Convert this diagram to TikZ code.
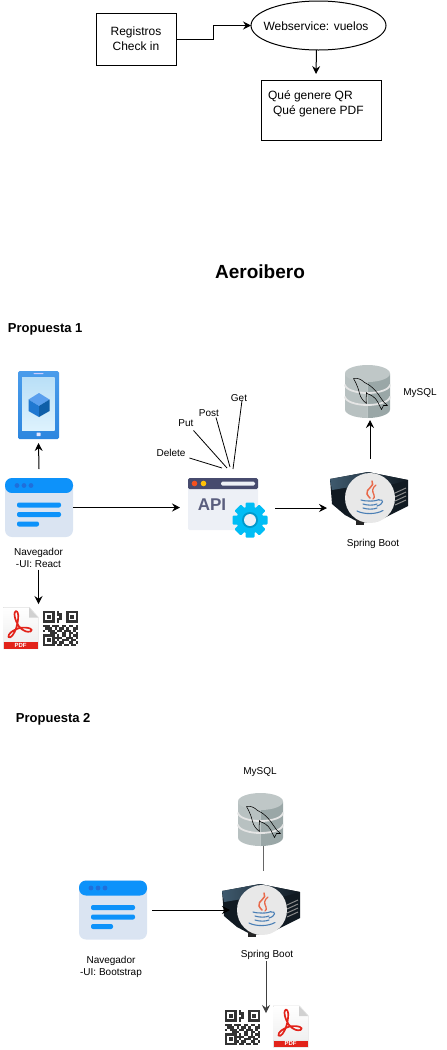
\documentclass[tikz,border=0pt]{standalone}
\usepackage{fontspec}
\setmainfont{Liberation Sans}
\usetikzlibrary{arrows.meta,shapes.geometric}
\definecolor{brhead}{HTML}{0D92FA}
\definecolor{brbody}{HTML}{DAE4F2}
\definecolor{brdot}{HTML}{1F6FDB}
\definecolor{apidark}{HTML}{474B6E}
\definecolor{apitext}{HTML}{5A5E7E}
\definecolor{apibody}{HTML}{EDF0F6}
\definecolor{gearc}{HTML}{00BDF5}
\definecolor{gearr}{HTML}{0099CC}
\definecolor{apired}{HTML}{F4511E}
\definecolor{apiyel}{HTML}{FFC107}
\definecolor{dbl}{HTML}{B8C1C1}
\definecolor{dbr}{HTML}{9AA7A7}
\definecolor{pdfred}{HTML}{E2231A}
\definecolor{qrc}{HTML}{333333}
\definecolor{srvd}{HTML}{111A22}
\definecolor{srvm}{HTML}{3F5A6E}
\definecolor{javab}{HTML}{4A7FB5}
\definecolor{javar}{HTML}{E8694A}
\definecolor{phtop}{HTML}{4A9CEB}
\definecolor{phbot}{HTML}{2C86DF}
\definecolor{sctop}{HTML}{B9DFF7}
\definecolor{scbot}{HTML}{DDF2FD}
\definecolor{cubea}{HTML}{5A9FEE}
\definecolor{cubeb}{HTML}{1F78D1}
\definecolor{cubec}{HTML}{0F5FA8}
\tikzset{
  x=1pt,y=-1pt,
  every node/.style={inner sep=0pt,outer sep=0pt,font=\fontsize{10}{12}\selectfont},
  flowbox/.style={draw=black,line width=1pt,fill=white},
  toptext/.style={font=\fontsize{12}{15}\selectfont,align=center},
  small/.style={align=center},
  head/.style={font=\fontsize{13}{15}\selectfont\bfseries},
  iconbox/.style={minimum width=#1,minimum height=#1},
  arr/.style={line width=1pt,-{Stealth[length=8pt,width=8pt,inset=2.8pt]}},
  plainline/.style={line width=0.8pt,black},
  browserpic/.pic={
    \fill[brbody,rounded corners=7pt] (-34,-29.5) rectangle (34,29.5);
    \fill[brhead,rounded corners=7pt] (-34,-29.5) -- (34,-29.5) -- (34,-14.5) -- (-34,-14.5) -- cycle;
    \fill[brbody] (-34,-14.5) rectangle (34,-10);
    \foreach \px in {-22,-15,-8} \fill[brdot] (\px,-22) circle (2.4pt);
    \fill[brhead,rounded corners=2pt] (-22,-5) rectangle (22,0);
    \fill[brhead,rounded corners=2pt] (-22,4.5) rectangle (22,9.5);
    \fill[brhead,rounded corners=2pt] (-22,14) rectangle (0,19);
  },
  phonepic/.pic={
    \shade[top color=phtop,bottom color=phbot,rounded corners=1.5pt] (-20.5,-34) rectangle (20.5,34);
    \shade[top color=sctop,bottom color=scbot] (-16.5,-28) rectangle (16,25);
    \fill[white!80!blue,rounded corners=.5pt] (-5,-32) rectangle (5,-30.8);
    \fill[white!90!blue,rounded corners=.5pt] (-2,27.5) rectangle (2,31);
    \fill[cubea] (0.5,-12) -- (11,-5.5) -- (0.5,1) -- (-10,-5.5) -- cycle;
    \fill[cubeb] (-10,-5.5) -- (0.5,1) -- (0.5,12) -- (-10,6) -- cycle;
    \fill[cubec] (11,-5.5) -- (0.5,1) -- (0.5,12) -- (11,6) -- cycle;
  },
  pdfpic/.pic={
    \fill[black!12] (-17.5,-21) -- (9,-21) -- (18,-11) -- (18,21) -- (-17.5,21) -- cycle;
    \shade[top color=white,bottom color=black!6] (-17,-20.5) -- (8.5,-20.5) -- (17.5,-10.5) -- (17.5,14) -- (-17,14) -- cycle;
    \fill[black!18] (8.5,-20.5) -- (17.5,-10.5) -- (8.5,-10.5) -- cycle;
    \fill[pdfred] (-17,14) rectangle (17.5,20.5);
    \node[text=white,font=\fontsize{6}{6}\selectfont\bfseries] at (0,17.3) {PDF};
    \draw[pdfred,line width=1.7pt,line join=round]
      (-3,-16) .. controls (-5,-19) and (-8,-15) .. (-4,-6)
      .. controls (-2,-1) and (3,5) .. (10,3.5)
      .. controls (14,1.5) and (8,-1.5) .. (-1,0)
      .. controls (-7,1.5) and (-13,6) .. (-12,9)
      .. controls (-10,11) and (-6,6) .. (-4,-1)
      .. controls (-2.5,-6) and (-1.5,-13) .. (-3,-16);
  },
  qrpic/.pic={
    \foreach \fx/\fy in {0/0,10/0,0/10}{
      \draw[qrc,line width=2.33pt] ({(\fx+.5)*2.33-17.5},{(\fy+.5)*2.33-17.5}) rectangle ({(\fx+4.5)*2.33-17.5},{(\fy+4.5)*2.33-17.5});
      \fill[qrc] ({(\fx+1.6)*2.33-17.5},{(\fy+1.6)*2.33-17.5}) rectangle ({(\fx+3.4)*2.33-17.5},{(\fy+3.4)*2.33-17.5});
    }
    \foreach \cx/\cy in {6/0,7/1,6/1,7/2,6/3,7/3,6/4,
      0/6,1/6,2/6,4/6,5/6,6/6,8/6,9/6,11/6,12/6,14/6,
      1/7,2/7,3/7,5/7,7/7,8/7,10/7,13/7,14/7,
      0/8,2/8,3/8,4/8,6/8,7/8,9/8,10/8,11/8,13/8,
      3/9,4/9,5/9,8/9,9/9,11/9,12/9,14/9,
      6/10,8/10,9/10,11/10,13/10,14/10,
      5/11,6/11,7/11,10/11,11/11,12/11,14/11,
      6/12,8/12,9/12,10/12,12/12,13/12,
      5/13,7/13,8/13,11/13,12/13,14/13,
      6/14,7/14,9/14,10/14,12/14,13/14}
      \fill[qrc] ({\cx*2.33-17.5},{\cy*2.33-17.5}) rectangle ({(\cx+1)*2.33-17.5},{(\cy+1)*2.33-17.5});
  },
  apipic/.pic={
    \fill[apibody,rounded corners=1.5pt] (-35,-26) rectangle (35,26);
    \fill[apidark,rounded corners=1.5pt] (-35,-26) rectangle (35,-15);
    \fill[apired] (-28.5,-20.5) circle (2.8pt);
    \fill[apiyel] (-19.5,-20.5) circle (2.8pt);
    \fill[apibody,rounded corners=1.5pt] (-2,-22.5) rectangle (32,-18.5);
    \node[text=apitext,font=\fontsize{17}{17}\selectfont\bfseries] at (-11,1) {API};
    \begin{scope}[shift={(27,16)}]
      \foreach \ang in {0,45,...,315}
        \fill[gearc,rotate=\ang,rounded corners=1pt] (-4.5,-17.5) rectangle (4.5,-8);
      \fill[gearc] (0,0) circle (13.5pt);
      \fill[gearr] (0,0) circle (8pt);
      \fill[apibody] (0,0) circle (6pt);
    \end{scope}
  },
  serverpic/.pic={
    \fill[srvd] (-40,-19) -- (-2,-26) -- (38,-18) -- (38,8) -- (8,23) -- (-10,25) -- (-25,17) -- (-38,6) -- cycle;
    \shade[left color=srvm,right color=srvd] (-40,-19) -- (-2,-26) -- (38,-18) -- (20,-13) -- (-2,-14) -- (-38,-8) -- cycle;
    \foreach \gy in {-7,-3,1,5} \draw[black!45,line width=1pt] (25,{\gy+2}) -- (36,{\gy-3});
    \fill[black!85] (-14,20) rectangle (-6,27);
    \fill[black!9] (0,0) circle (25pt);
    \begin{scope}[line cap=round]
      \draw[javar,line width=1.5pt] (2,-17) .. controls (6,-12) and (-5,-9) .. (-3,-4) .. controls (-2,-2) and (-1,-1) .. (0,0);
      \draw[javar,line width=1.3pt] (6,-13) .. controls (2,-10) and (2,-7) .. (4,-3) .. controls (5,-1) and (4,0) .. (3,1);
      \draw[javab,line width=1.1pt] (-9,2) .. controls (-4,3.5) and (6,3.5) .. (9,1.5);
      \draw[javab,line width=1.1pt] (-7,6) .. controls (-3,7.5) and (4,7.5) .. (7,6);
      \draw[javab,line width=1.1pt] (-7,10) .. controls (-3,11.5) and (4,11.5) .. (7,10);
      \draw[javab,line width=1.1pt] (-13,13) .. controls (-6,16.5) and (6,16.5) .. (13,12.5);
      \draw[javab,line width=1.1pt] (9,2) .. controls (14,1) and (14,6) .. (7,8);
    \end{scope}
  },
  dbpic/.pic={
    \begin{scope}
      \clip (-23,-27) rectangle (0,28);
      \fill[dbl] (-22.5,-18) -- (-22.5,18) arc[start angle=180,end angle=360,x radius=22.5pt,y radius=8.5pt] -- (22.5,-18) -- cycle;
    \end{scope}
    \begin{scope}
      \clip (0,-27) rectangle (23,28);
      \fill[dbr] (-22.5,-18) -- (-22.5,18) arc[start angle=180,end angle=360,x radius=22.5pt,y radius=8.5pt] -- (22.5,-18) -- cycle;
    \end{scope}
    \fill[dbl!90!white] (0,-18) ellipse[x radius=22.5pt,y radius=8.5pt];
    \draw[white!90!black,line width=1.8pt] (-22.5,-7) arc[start angle=180,end angle=360,x radius=22.5pt,y radius=8.5pt];
    \draw[white!90!black,line width=1.8pt] (-22.5,5) arc[start angle=180,end angle=360,x radius=22.5pt,y radius=8.5pt];
    \draw[black,line width=.55pt,line join=round]
      (-14,-13) .. controls (-10,-14) and (-6,-12) .. (-3,-9)
      .. controls (2,-7) and (8,-2) .. (13,6)
      .. controls (15,9) and (17,12) .. (20,14)
      -- (16,14) -- (14,18) -- (12,14)
      .. controls (10,9) and (7,5) .. (2,3)
      .. controls (0,2.5) and (-1,2) .. (-1,1)
      .. controls (-1,5) and (-2,8) .. (-1,12)
      .. controls (-4,10) and (-7,6) .. (-8,2)
      .. controls (-9,-2) and (-10,-6) .. (-14,-13);
  }
}
\begin{document}
\begin{tikzpicture}
\useasboundingbox (0,0) rectangle (447,1050);
% --- top flow
\node[flowbox,minimum width=80pt,minimum height=52pt,toptext] (reg) at (136,39) {Registros\\Check in};
\node[flowbox,ellipse,minimum width=135pt,minimum height=49pt] (ws) at (318.5,25.5) {};
\node[toptext] (wstext) at (316,26) {Webservice: vuelos};
\node[flowbox,minimum width=120pt,minimum height=60pt] (gen) at (321,110) {};
\node[toptext,align=left,anchor=west] (gentext) at (268,103.5) {Qué genere QR\\\hspace*{5pt}Qué genere PDF};
\draw[arr] (reg.east) -- ++(37,0) |- (ws.west);
\draw[arr] ([shift={(-2,0)}]ws.south) -- ([shift={(-5,-6)}]gen.north);
% --- headings
\node[font=\fontsize{19}{21}\selectfont\bfseries] (title) at (260,272) {Aeroibero};
\node[head,anchor=west] (prop1) at (8,329) {Propuesta 1};
\node[head,anchor=west] (prop2) at (16,719) {Propuesta 2};
% --- proposal 1
\node[iconbox=0pt,minimum width=41pt,minimum height=68pt] (phone) at (38.5,405) {};
\pic at (38.5,405) {phonepic};
\node[iconbox=0pt,minimum width=68pt,minimum height=59pt] (br1) at (39,507.5) {};
\pic at (39,507.5) {browserpic};
\node[small] (nav1) at (38.5,558) {Navegador\\-UI: React};
\node[iconbox=0pt,minimum width=35pt,minimum height=42pt] (pdf1) at (20.5,628) {};
\pic at (20.5,628) {pdfpic};
\node[iconbox=0pt,minimum width=35pt,minimum height=35pt] (qr1) at (60.5,628.5) {};
\pic at (60.5,628.5) {qrpic};
\coordinate (docs1) at (38.5,604);
\node[iconbox=0pt,minimum width=70pt,minimum height=52pt] (api) at (223,504) {};
\pic at (223,504) {apipic};
\node[iconbox=0pt,minimum width=80pt,minimum height=53pt] (srv1) at (370,498) {};
\pic at (370,498) {serverpic};
\node[iconbox=0pt,minimum width=45pt,minimum height=53pt] (db1) at (367.5,391.5) {};
\pic at (367.5,391.5) {dbpic};
\node (get) at (239,398) {Get};
\node (post) at (209,413) {Post};
\node (put) at (186,423) {Put};
\node (del) at (171,453) {Delete};
\node (my1) at (420,393) {MySQL};
\node (sp1) at (373,543.5) {Spring Boot};
\draw[arr] ([shift={(0,-9)}]br1.north) -- ([shift={(0,4)}]phone.south);
\draw[arr] (nav1.south -| docs1) ++(0,2) -- (docs1);
\draw[arr] (br1.east) -- ([shift={(-8,0)}]api.west |- br1.east);
\draw[arr] ([shift={(17,4)}]api.east) -- ([shift={(-3,10)}]srv1.west);
\draw[arr] ([shift={(0,-13)}]srv1.north) -- ([shift={(2.5,2)}]db1.south);
\draw[plainline] ([shift={(4,5)}]del.east) -- ([shift={(-1,-10)}]api.north);
\draw[plainline] ([shift={(0,4)}]put.south east) -- ([shift={(4,-10)}]api.north);
\draw[plainline] ([shift={(-3,1)}]post.south east) -- ([shift={(7,-11)}]api.north);
\draw[plainline] ([shift={(3,-1)}]get.south) -- ([shift={(10,-9)}]api.north);
% --- proposal 2
\node[iconbox=0pt,minimum width=68pt,minimum height=58pt] (br2) at (113,910) {};
\pic at (113,910) {browserpic};
\node[small] (nav2) at (111,966.5) {Navegador\\-UI: Bootstrap};
\node[iconbox=0pt,minimum width=80pt,minimum height=53pt] (srv2) at (262,910) {};
\pic at (262,910) {serverpic};
\node[iconbox=0pt,minimum width=45pt,minimum height=55pt] (db2) at (260.5,819) {};
\node (my2) at (260,772.5) {MySQL};
\node (sp2) at (267,954.5) {Spring Boot};
\node[iconbox=0pt,minimum width=35pt,minimum height=35pt] (qr2) at (242.5,1027.5) {};
\pic at (242.5,1027.5) {qrpic};
\node[iconbox=0pt,minimum width=35pt,minimum height=42pt] (pdf2) at (290.5,1026.5) {};
\pic at (290.5,1026.5) {pdfpic};
\coordinate (docs2) at (266,1013);
\draw[black!60,line width=1pt] ([shift={(1,-13)}]srv2.north) -- ([shift={(2.5,-1)}]db2.south);
\pic at (260.5,819.5) {dbpic};
\draw[arr] ([shift={(5,0)}]br2.east) -- ([shift={(8,0)}]srv2.west);
\draw[arr,black!75] (sp2.south -| docs2) ++(0,2) -- (docs2);
\end{tikzpicture}
\end{document}
